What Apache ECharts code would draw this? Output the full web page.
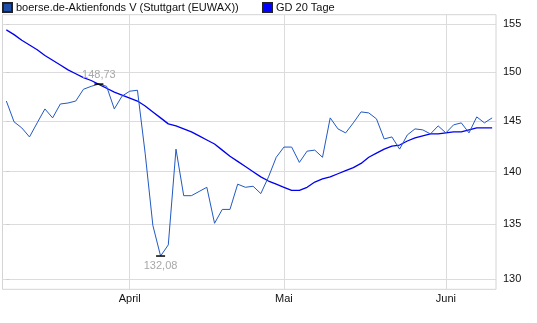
<!DOCTYPE html>
<html>
<head>
<meta charset="utf-8">
<script src="https://cdn.jsdelivr.net/npm/echarts@6/dist/echarts.min.js"></script>
<style>
html,body{margin:0;padding:0;background:#fff;}
#c{width:537px;height:323px;}
</style>
</head>
<body>
<div id="c"></div>
<script>
const seriesNames = ['boerse.de-Aktienfonds V (Stuttgart (EUWAX))', 'GD 20 Tage'];
const dates = [
 '2025-03-10','2025-03-11','2025-03-12','2025-03-13','2025-03-14','2025-03-17','2025-03-18','2025-03-19','2025-03-20','2025-03-21',
 '2025-03-24','2025-03-25','2025-03-26','2025-03-27','2025-03-28','2025-03-31',
 '2025-04-01','2025-04-02','2025-04-03','2025-04-04','2025-04-07','2025-04-08','2025-04-09','2025-04-10','2025-04-11',
 '2025-04-14','2025-04-15','2025-04-16','2025-04-17','2025-04-22','2025-04-23','2025-04-24','2025-04-25','2025-04-28','2025-04-29','2025-04-30',
 '2025-05-02','2025-05-05','2025-05-06','2025-05-07','2025-05-08','2025-05-09','2025-05-12','2025-05-13','2025-05-14','2025-05-15','2025-05-16',
 '2025-05-19','2025-05-20','2025-05-21','2025-05-22','2025-05-23','2025-05-26','2025-05-27','2025-05-28','2025-05-29','2025-05-30',
 '2025-06-02','2025-06-03','2025-06-04','2025-06-05','2025-06-06','2025-06-09','2025-06-10'
];
const price = [
 147.0,144.9,144.3,143.4,144.8,146.2,145.3,146.7,146.8,147.0,
 148.2,148.5,148.73,148.5,146.2,147.5,
 148.0,148.1,141.8,134.9,132.08,133.1,142.2,137.7,137.7,
 138.1,138.5,135.1,136.4,136.4,138.8,138.5,138.6,137.9,139.5,141.4,
 142.4,142.4,140.9,142.0,142.1,141.4,145.3,144.2,143.8,144.8,145.9,
 145.8,145.2,143.2,143.4,142.2,143.6,144.2,144.1,143.7,144.5,
 143.8,144.6,144.8,143.8,145.4,144.8,145.3
];
const gd20 = [
 154.4,153.9,153.3,152.8,152.3,151.7,151.2,150.7,150.2,149.8,
 149.4,149.1,148.7,148.3,147.9,147.6,147.3,147.0,146.5,145.9,
 145.3,144.7,144.5,144.2,143.9,143.5,143.1,142.7,142.1,141.5,
 141.0,140.5,140.0,139.5,139.1,138.8,138.5,138.2,138.2,138.5,
 139.0,139.3,139.5,139.8,140.1,140.4,140.8,141.4,141.8,142.2,
 142.5,142.6,143.0,143.3,143.5,143.7,143.7,143.8,143.9,143.9,
 144.1,144.3,144.3,144.3
];
const yTicks = [130, 135, 140, 145, 150, 155];
const monthLabels = {'04':'April','05':'Mai','06':'Juni'};
const maxLabel = '148,73';
const minLabel = '132,08';

// x tick positions: first trading day of each labelled month
const xTickIdx = [];
dates.forEach((d, i) => {
  const m = d.slice(5, 7);
  if (monthLabels[m] && (i === 0 || dates[i - 1].slice(5, 7) !== m)) xTickIdx.push(i);
});

let maxI = 0, minI = 0;
price.forEach((v, i) => { if (v > price[maxI]) maxI = i; if (v < price[minI]) minI = i; });

const chart = echarts.init(document.getElementById('c'), null, {renderer: 'canvas'});
const font = 'Liberation Sans, Arial, sans-serif';
chart.setOption({
  animation: false,
  backgroundColor: '#fff',
  textStyle: {fontFamily: font},
  legend: [
    {data: [seriesNames[0]], left: 2, top: 2, padding: 0, itemWidth: 9, itemHeight: 9, icon: 'rect',
     textStyle: {fontSize: 11, color: '#111', fontFamily: font, padding: [0, 0, 0, -1]}},
    {data: [seriesNames[1]], left: 262, top: 2, padding: 0, itemWidth: 9, itemHeight: 9, icon: 'rect',
     textStyle: {fontSize: 11, color: '#111', fontFamily: font, padding: [0, 0, 0, -1]}}
  ],
  grid: {left: 2.5, right: 41, top: 14.7, bottom: 33.7, show: true, borderColor: '#d4d4d4', borderWidth: 1, containLabel: false},
  xAxis: {
    type: 'value', min: -0.5, max: dates.length - 0.5,
    axisLine: {show: false},
    axisTick: {show: false, customValues: xTickIdx},
    axisLabel: {customValues: xTickIdx, fontSize: 11, color: '#111', margin: 4, fontFamily: font,
      formatter: v => monthLabels[dates[Math.round(v)].slice(5, 7)]},
    splitLine: {show: true, lineStyle: {color: '#dcdcdc', width: 1}}
  },
  yAxis: {
    type: 'log', logBase: 10, min: 129.08, max: 156.03, position: 'right',
    axisLine: {show: false},
    axisTick: {show: true, length: 3, lineStyle: {color: '#cccccc'}, customValues: yTicks},
    axisLabel: {customValues: yTicks, fontSize: 11, color: '#111', margin: 7, fontFamily: font},
    splitLine: {show: true, lineStyle: {color: '#dcdcdc', width: 1}}
  },
  series: [
    {
      name: seriesNames[0], type: 'line', showSymbol: false, symbol: 'none',
      data: price.map((v, i) => [i, v]),
      lineStyle: {color: '#2259c4', width: 1},
      itemStyle: {color: '#1f4ea8', borderColor: '#222', borderWidth: 1},
      z: 3,
      markPoint: {
        symbol: 'rect', symbolSize: [9, 1.5], silent: true,
        itemStyle: {color: '#000', borderWidth: 0},
        data: [
          {coord: [maxI, price[maxI]], label: {show: true, position: 'top', distance: 3, formatter: maxLabel, color: '#a8a8a8', fontSize: 11, fontFamily: font}},
          {coord: [minI, price[minI]], label: {show: true, position: 'bottom', distance: 4, formatter: minLabel, color: '#a8a8a8', fontSize: 11, fontFamily: font}}
        ]
      }
    },
    {
      name: seriesNames[1], type: 'line', showSymbol: false, symbol: 'none',
      data: gd20.map((v, i) => [i, v]),
      lineStyle: {color: '#0000f0', width: 1.3},
      itemStyle: {color: '#0000ff', borderColor: '#222', borderWidth: 1},
      z: 2
    }
  ]
});
</script>
</body>
</html>
